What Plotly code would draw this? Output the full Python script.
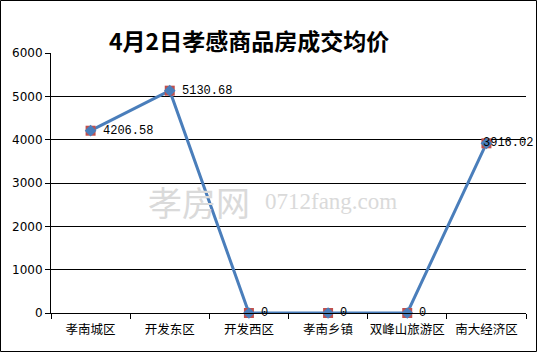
import plotly.graph_objects as go

categories = ["孝南城区", "开发东区", "开发西区", "孝南乡镇", "双峰山旅游区", "南大经济区"]
values = [4206.58, 5130.68, 0, 0, 0, 3916.02]
labels = ["4206.58", "5130.68", "0", "0", "0", "3916.02"]
title_text = "4月2日孝感商品房成交均价"

W, H = 537, 352
L, R, T, B = 51, 11, 53, 39
pw, ph = W - L - R, H - T - B

fig = go.Figure()
fig.add_trace(go.Scatter(
    x=categories, y=values, mode="lines",
    line=dict(color="#4A7EBB", width=3), hoverinfo="skip", cliponaxis=False))
fig.add_trace(go.Scatter(
    x=categories, y=values, mode="markers",
    marker=dict(symbol="square", size=10, color="#C0504D"), hoverinfo="skip", cliponaxis=False))
fig.add_trace(go.Scatter(
    x=categories, y=values, mode="markers",
    marker=dict(symbol="diamond", size=9, color="#4A7EBB"), hoverinfo="skip", cliponaxis=False))

annots = []
for i, (c, v, t) in enumerate(zip(categories, values, labels)):
    annots.append(dict(x=c, y=v, text=t, showarrow=False, xanchor="left",
                       xshift=(-5 if i == len(categories) - 1 else 10), yshift=0,
                       font=dict(family="Liberation Mono, DejaVu Sans Mono", size=12, color="black")))
# watermark
annots.append(dict(x=0.2, y=0.43, xref="paper", yref="paper", text="孝房网",
                   showarrow=False, font=dict(family="Noto Sans CJK SC", size=34, color="#DADADA")))
annots.append(dict(x=0.59, y=0.43, xref="paper", yref="paper", text="0712fang.com",
                   showarrow=False, font=dict(family="Liberation Serif", size=23, color="#DADADA")))
annots.append(dict(x=(249 - L) / pw, y=(H - 21 - B) / ph, xref="paper", yref="paper",
                   text="<b>" + title_text + "</b>", showarrow=False,
                   font=dict(family="Noto Sans CJK SC", size=23, color="black")))

fig.update_layout(
    width=W, height=H, margin=dict(l=L, r=R, t=T, b=B, autoexpand=False),
    paper_bgcolor="white", plot_bgcolor="white", showlegend=False,
    annotations=annots,
    shapes=[dict(type="rect", xref="paper", yref="paper",
                 x0=(0.5 - L) / pw, x1=(W - 0.5 - L) / pw,
                 y0=(0.5 - B) / ph, y1=(H - 0.5 - B) / ph,
                 line=dict(color="black", width=1), layer="below")],
    xaxis=dict(type="category", range=[-0.5, 5.5], showgrid=False, automargin=False,
               showline=True, linecolor="black", linewidth=1, tickangle=0,
               ticks="outside", tickson="boundaries", ticklen=5, tickcolor="black",
               ticklabelstandoff=5,
               tickfont=dict(family="Noto Sans CJK SC", size=12.5, color="black")),
    yaxis=dict(range=[0, 6000], dtick=1000, showgrid=True, gridcolor="black", gridwidth=1,
               showline=True, linecolor="black", linewidth=1, zeroline=False, automargin=False,
               ticks="outside", ticklen=5, tickcolor="black",
               tickfont=dict(family="DejaVu Sans", size=12, color="black")),
)
fig.write_html("out.html")
